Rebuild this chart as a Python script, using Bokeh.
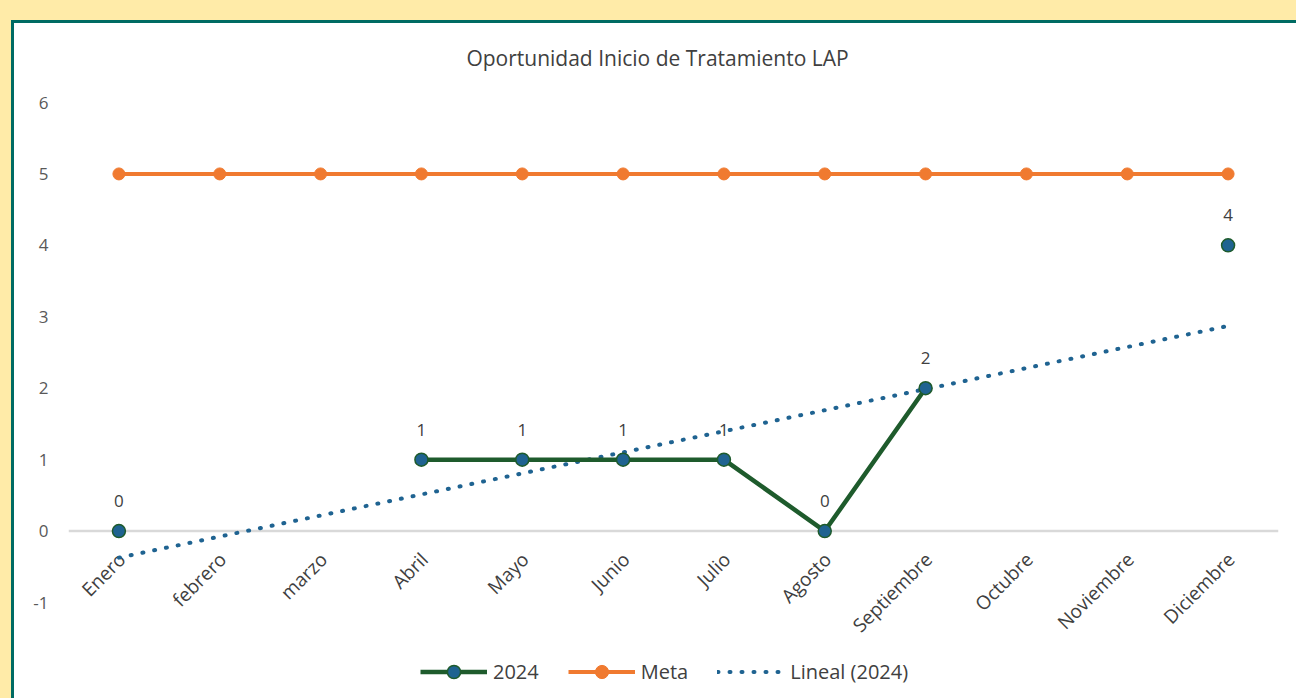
import numpy as np
from bokeh.plotting import figure
from bokeh.models import (FactorRange, Span, Legend, LegendItem, FixedTicker,
                          ColumnDataSource, Label)
from bokeh.layouts import column
from bokeh.core.properties import value
from bokeh.embed import file_html
from bokeh.resources import INLINE

# ---- data ----
months = ["Enero", "febrero", "marzo", "Abril", "Mayo", "Junio", "Julio",
          "Agosto", "Septiembre", "Octubre", "Noviembre", "Diciembre"]
serie_2024 = [0, None, None, 1, 1, 1, 1, 0, 2, None, None, 4]
meta = [5] * 12
y_ticks = [-1, 0, 1, 2, 3, 4, 5, 6]
title_text = "Oportunidad Inicio de Tratamiento LAP"

FONT = "Open Sans"
GREEN = "#1E5B2C"
BLUE = "#1F6391"
ORANGE = "#F07A30"
TXT = "#404040"

vals = np.array([np.nan if v is None else v for v in serie_2024], dtype=float)
idx = np.arange(1, 13)
mask = ~np.isnan(vals)
slope, intercept = np.polyfit(idx[mask], vals[mask], 1)
trend_y = [intercept + slope * 1, intercept + slope * 12]
trend_x = [months[0], months[-1]]

# frame spans the whole figure height so labels/legend are not clipped
px_per_unit = 500 / 7.0
y_top = 6 + 79 / px_per_unit
y_bot = -1 - 96 / px_per_unit

p = figure(x_range=FactorRange(*months, range_padding=0),
           y_range=(y_bot, y_top),
           width=1282, height=675, output_backend="svg", toolbar_location=None,
           min_border_left=54, min_border_right=18, min_border_top=0,
           min_border_bottom=0, background_fill_color="white",
           border_fill_color="white")
p.outline_line_color = None

p.xgrid.visible = False
p.ygrid.visible = False
p.xaxis.visible = False
p.yaxis.ticker = FixedTicker(ticks=y_ticks)
p.yaxis.major_label_overrides = {t: str(t) for t in y_ticks}
p.yaxis.axis_line_color = None
p.yaxis.major_tick_line_color = None
p.yaxis.minor_tick_line_color = None
p.yaxis.major_tick_out = 0
p.yaxis.major_tick_in = 0
p.yaxis.major_label_standoff = 20
p.yaxis.major_label_text_font = FONT
p.yaxis.major_label_text_font_size = "17px"
p.yaxis.major_label_text_color = "#595959"

title = Label(x=6, y=6 + 45 / px_per_unit, x_offset=-16, text=title_text,
              text_align="center", text_baseline="middle", text_font=FONT,
              text_font_size="21px", text_color=TXT)
p.add_layout(title)

zero = Span(location=0, dimension="width", line_color="#D9D9D9", line_width=2.5,
            level="underlay")
p.add_layout(zero)

# category labels at y = 0
lab_src = ColumnDataSource(dict(x=months, y=[0] * 12, t=months))
p.text(x="x", y="y", text="t", source=lab_src, angle=np.pi / 4,
       text_align="right", text_baseline="middle", x_offset=3, y_offset=25,
       text_font=value(FONT), text_font_size="19px", text_color=TXT)

# trend
r_trend = p.line(trend_x, trend_y, line_color=BLUE, line_width=4,
                 line_dash="1 11", line_cap="round")

# meta
r_meta_l = p.line(months, meta, line_color=ORANGE, line_width=4)
r_meta_m = p.scatter(months, meta, size=12, fill_color=ORANGE,
                     line_color=ORANGE)

# 2024
r_24_l = p.line(months, vals, line_color=GREEN, line_width=4.5)
pts_x = [m for m, v in zip(months, serie_2024) if v is not None]
pts_y = [v for v in serie_2024 if v is not None]
r_24_m = p.scatter(pts_x, pts_y, size=13, fill_color=BLUE, line_color=GREEN,
                   line_width=1.5)
p.text(x=pts_x, y=pts_y, text=[str(v) for v in pts_y], text_align="center",
       text_baseline="middle", y_offset=-30, text_font=value(FONT),
       text_font_size="17px", text_color=TXT)

legend = Legend(items=[
    LegendItem(label="2024", renderers=[r_24_l, r_24_m]),
    LegendItem(label="Meta", renderers=[r_meta_l, r_meta_m]),
    LegendItem(label="Lineal (2024)", renderers=[r_trend]),
], orientation="horizontal", location=(352, 10), border_line_color=None,
    background_fill_alpha=0, padding=0, margin=0, spacing=29,
    glyph_width=67, glyph_height=33, label_standoff=6,
    label_text_font=FONT, label_text_font_size="20px",
    label_text_color=TXT, label_height=33)
p.add_layout(legend, "center")

inner = column(p, styles={"background-color": "white",
                          "border-left": "3px solid #006B63",
                          "border-top": "3px solid #006B63"})
outer = column(inner, styles={"background-color": "#FFEBA8",
                              "padding-left": "11px", "padding-top": "20px"})

open("out.html", "w").write(file_html(outer, INLINE))
